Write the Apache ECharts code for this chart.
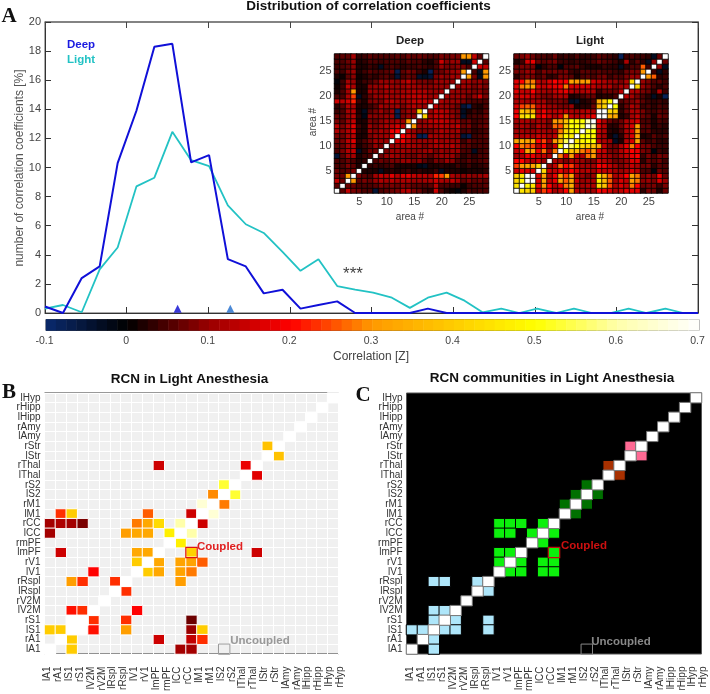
<!DOCTYPE html>
<html><head><meta charset="utf-8">
<style>html,body{margin:0;padding:0;background:#fff}#c{width:710px;height:694px}</style>
<script src="https://cdn.jsdelivr.net/npm/echarts@6/dist/echarts.min.js"></script>
</head><body><div id="c"></div>
<script>
// ---------- Panel A distribution ----------
const corrBins=[-0.1,-0.078,-0.055,-0.033,-0.011,0.012,0.034,0.056,0.079,0.101,0.124,0.146,0.168,0.191,0.213,0.235,0.258,0.280,0.302,0.325,0.347,0.369,0.392,0.414,0.436,0.459,0.481,0.503,0.526,0.548,0.570,0.593,0.615,0.637,0.660,0.682,0.7];
const deepPct=[0.45,0,2.4,3.2,10.3,13.9,18.3,18.5,10.35,10.85,3.7,3.2,1.35,1.6,0.3,0.55,0.8,0,0,0,0,0.3,0,0,0,0,0,0,0,0,0,0,0,0,0,0,0];
const lightPct=[0.3,0.55,0.05,3.0,4.5,8.7,9.3,12.45,10.5,10.1,7.4,6.1,5.5,4.2,2.9,3.7,1.85,1.6,1.4,1.05,0.35,1.05,1.4,0.85,0.05,0.3,0,0.3,0,0.3,0,0,0.3,0,0.3,0,0];
const deepMean=[[0.0625,0.3]];
const lightMean=[[0.127,0.3]];
const yTicksA=[0,2,4,6,8,10,12,14,16,18,20];
// ---------- colour scale ----------
const colorStops=['#0a2a6e','#000000','#9a0000','#ff0000','#ff9900','#ffcc00','#ffff00','#ffffaa','#ffffff'];
const barLevels=[-0.094,-0.081,-0.069,-0.056,-0.044,-0.031,-0.019,-0.006,0.006,0.019,0.031,0.044,0.056,0.069,0.081,0.094,0.106,0.119,0.131,0.144,0.156,0.169,0.181,0.194,0.206,0.219,0.231,0.244,0.256,0.269,0.281,0.294,0.306,0.319,0.331,0.344,0.356,0.369,0.381,0.394,0.406,0.419,0.431,0.444,0.456,0.469,0.481,0.494,0.506,0.519,0.531,0.544,0.556,0.569,0.581,0.594,0.606,0.619,0.631,0.644,0.656,0.669,0.681,0.694];
// ---------- inset matrices: upper triangles, hundredths, row i holds j>i ----------
const areaLabels=['1','2','3','4','5','6','7','8','9','10','11','12','13','14','15','16','17','18','19','20','21','22','23','24','25','26','27','28'];
const deepUpper=[
[6,14,8,7,5,5,-5,5,6,7,8,12,13,8,7,4,3,15,5,2,1,-1,2,5,4,5,5],
[7,7,5,5,5,6,8,7,8,7,9,8,6,6,5,6,13,5,5,4,4,1,4,5,5,6],
[30,6,8,7,10,12,11,13,11,12,12,10,10,11,12,15,12,11,14,11,6,8,6,7,6],
[8,6,5,11,14,13,17,13,16,17,14,13,13,12,22,24,30,12,10,9,10,9,10,11],
[2,2,2,-3,2,3,2,3,4,2,3,2,2,4,-3,2,2,2,1,2,2,2,3],
[3,4,3,4,5,2,2,2,2,-2,-3,2,2,3,2,2,4,2,4,2,3,4],
[5,7,6,8,8,10,10,8,9,6,4,8,7,10,9,5,4,6,4,5,6],
[7,10,11,10,9,8,7,9,8,6,9,10,10,10,7,3,5,3,5,5],
[8,10,10,11,10,9,9,10,11,8,10,9,10,10,5,5,-3,4,5],
[10,11,10,12,11,10,8,10,12,12,11,13,10,6,6,4,5,5],
[16,18,13,10,10,10,10,13,10,11,10,10,4,7,5,5,5],
[20,16,11,-7,-8,11,11,11,10,10,9,-5,-7,4,5,6],
[13,10,8,8,8,10,12,11,10,11,5,6,3,4,5],
[30,10,10,11,12,13,12,12,14,7,8,4,6,7],
[9,10,13,14,14,13,11,10,6,7,4,5,6],
[42,11,14,14,12,10,8,-4,4,5,5,7],
[10,14,13,12,9,8,-3,2,4,3,6],
[13,10,10,9,7,-5,-8,3,2,5],
[12,10,10,10,8,6,5,5,5],
[11,10,10,10,7,10,15,8],
[10,10,9,9,8,9,7],
[10,11,10,8,10,8],
[11,11,9,10,8],
[31,8,-3,30],
[5,-3,30],
[15,14],
[6]];
const lightUpper=[
[45,42,40,15,24,20,11,14,20,32,13,11,10,11,20,18,16,12,14,17,17,17,3,8,7,2,7],
[48,45,18,30,20,12,18,28,34,12,11,12,12,42,38,24,12,16,14,28,20,7,8,8,4,8],
[70,16,32,14,18,32,26,32,14,10,11,12,46,36,26,11,16,14,31,28,9,10,8,16,10],
[16,32,12,18,30,24,32,12,10,8,10,44,34,26,12,14,20,32,28,8,10,8,18,7],
[42,15,14,18,13,20,15,12,13,11,16,14,14,11,10,12,16,13,5,5,-1,7,5],
[10,14,27,20,24,14,11,11,11,20,18,14,11,8,11,14,12,7,8,3,6,5],
[12,11,8,12,11,10,8,8,15,13,10,7,8,10,16,16,3,7,5,7,4],
[28,15,30,14,12,27,30,12,13,10,8,11,14,18,20,4,8,5,8,7],
[48,38,36,28,25,30,16,14,8,8,12,16,20,18,8,7,-1,4,3],
[55,50,42,40,38,30,14,8,7,12,18,28,20,8,8,5,4,4],
[46,48,50,50,14,12,10,-3,2,13,16,32,6,4,5,3,3],
[50,50,48,13,11,2,-4,3,11,16,30,2,3,6,4,5],
[52,50,14,12,3,2,5,12,16,30,5,6,3,3,3],
[62,16,13,3,3,7,13,16,31,6,6,2,4,3],
[18,12,7,5,7,12,14,16,5,5,2,5,4],
[70,34,33,2,4,11,14,7,6,2,7,6],
[42,40,3,7,12,12,8,5,4,6,5],
[50,3,7,12,10,4,5,3,5,4],
[5,7,8,10,6,4,3,4,3],
[13,11,8,5,3,-3,2,-8],
[12,12,8,7,3,12,4],
[42,10,8,5,3,5],
[10,8,5,6,4],
[30,26,3,4],
[4,-3,3],
[10,-3],
[7]];
// ---------- panels B and C ----------
const regionRows=['lA1','rA1','lS1','rS1','lV2M','rV2M','lRspl','rRspl','lV1','rV1','lmPF','rmPF','lCC','rCC','lM1','rM1','lS2','rS2','lThal','rThal','lStr','rStr','lAmy','rAmy','lHipp','rHipp','lHyp'];
const regionCols=['lA1','rA1','lS1','rS1','lV2M','rV2M','lRspl','rRspl','lV1','rV1','lmPF','rmPF','lCC','rCC','lM1','rM1','lS2','rS2','lThal','rThal','lStr','rStr','lAmy','rAmy','lHipp','rHipp','lHyp','rHyp'];
const rcnDiagonal=[0,1,2,3,4,5,6,7,8,9,10,11,12,13,14,15,16,17,18,19,20,21,22,23,24,25,26];
const rcnCells=[
[20,21,.38],[21,20,.38],[10,19,.15],[18,19,.18],[19,18,.17],[16,17,.53],[15,16,.29],[17,16,.53],[14,15,.65],[16,15,.28],
[1,14,.23],[2,14,.4],[9,14,.26],[13,14,.15],[15,14,.65],
[0,13,.11],[1,13,.12],[2,13,.11],[3,13,.08],[8,13,.28],[9,13,.33],[10,13,.43],[12,13,.6],[14,13,.15],
[0,12,.11],[7,12,.31],[8,12,.33],[9,12,.33],[11,12,.47],[13,12,.6],[12,11,.47],
[1,10,.15],[8,10,.33],[9,10,.33],[13,10,.41],[19,10,.15],
[8,9,.4],[10,9,.33],[12,9,.32],[13,9,.32],[14,9,.26],
[4,8,.2],[9,8,.4],[10,8,.33],[12,8,.32],[13,8,.28],
[2,7,.31],[3,7,.23],[6,7,.23],[12,7,.31],[7,6,.23],
[2,4,.21],[3,4,.23],[8,4,.2],
[2,3,.7],[4,3,.23],[7,3,.23],[13,3,.07],
[0,2,.4],[1,2,.4],[3,2,.7],[4,2,.21],[7,2,.31],[13,2,.1],[14,2,.4],
[2,1,.4],[10,1,.15],[13,1,.14],[14,1,.23],
[2,0,.4],[12,0,.11],[13,0,.11]];
const blueCells=[[2,7],[3,7],[6,7],[7,6],[2,4],[3,4],[2,3],[4,3],[7,3],[0,2],[1,2],[3,2],[4,2],[7,2],[2,1],[2,0]];
const greenCells=[[8,13],[9,13],[10,13],[12,13],[8,12],[9,12],[11,12],[13,12],[12,11],[8,10],[9,10],[13,10],[8,9],[10,9],[12,9],[13,9],[9,8],[10,8],[12,8],[13,8]];
const darkGreenCells=[[16,17],[15,16],[17,16],[14,15],[16,15],[15,14]];
const brownCells=[[18,19],[19,18]];
const pinkCells=[[20,21],[21,20]];
const coupledCell=[[13,10]];
const uncoupledCell=[[16,0]];

function mirror(upper){const out=[];for(let i=0;i<28;i++){out.push([i,i,.7]);(upper[i]||[]).forEach((v,k)=>{const j=i+1+k;out.push([j,i,v/100]);out.push([i,j,v/100]);});}return out;}
const sans='"Liberation Sans",Arial,sans-serif';
const grey='#444';
const grids=[
{left:45,top:22,width:653,height:291,show:true,borderColor:'#555',borderWidth:1},
{left:334.5,top:54,width:154,height:139,show:true,borderColor:'#999',backgroundColor:'#000',borderWidth:1},
{left:514,top:54,width:154,height:139,show:true,borderColor:'#999',backgroundColor:'#000',borderWidth:1},
{left:46,top:319.5,width:653,height:11,show:true,borderColor:'#555',borderWidth:1},
{left:44.5,top:393,width:294,height:261,show:true,borderColor:'#333',backgroundColor:'#f0f0f0',borderWidth:1},
{left:42.3,top:393,width:303.3,height:261},
{left:406.5,top:393,width:295,height:261,show:true,borderColor:'#555',backgroundColor:'#000',borderWidth:1},
{left:404.6,top:393,width:304.4,height:261}];
const hide={show:false};
function catAxis(g,data,extra){return Object.assign({type:'category',gridIndex:g,data:data,axisLine:hide,axisTick:hide,splitLine:hide,axisLabel:hide},extra||{});}
const insetLabel={show:true,fontFamily:sans,fontSize:11,color:'#444',margin:3,interval:(i)=>(i+1)%5===0};
const whiteLines={show:true,interval:0,lineStyle:{color:'#fff',width:1}};
const rowLabel={show:true,interval:0,fontFamily:sans,fontSize:10,color:'#333',margin:4};
const colLabel={show:true,interval:0,rotate:90,fontFamily:sans,fontSize:10,color:'#333',margin:23};
const xAxes=[
{type:'value',gridIndex:0,min:-0.1,max:0.7,interval:0.1,position:'bottom',axisLine:{onZero:false,lineStyle:{color:'#333'}},axisTick:{inside:true,length:6,lineStyle:{color:'#333'}},axisLabel:hide,splitLine:hide},
{type:'value',gridIndex:0,min:-0.1,max:0.7,interval:0.1,position:'top',axisLine:{onZero:false,lineStyle:{color:'#777',width:1.5}},axisTick:{inside:true,length:6,lineStyle:{color:'#444'}},axisLabel:hide,splitLine:hide},
catAxis(1,areaLabels,{axisLabel:insetLabel}),
catAxis(2,areaLabels,{axisLabel:insetLabel}),
catAxis(3,barLevels.map(String)),
{type:'value',gridIndex:3,min:-0.1,max:0.7,interval:0.1,position:'bottom',z:6,axisLine:hide,axisTick:{inside:true,length:11,lineStyle:{color:'#222'}},axisLabel:{show:true,fontFamily:sans,fontSize:10.5,color:'#444',margin:5,padding:[0,3,0,0],formatter:(v)=>String(+v.toFixed(1))},splitLine:hide},
catAxis(4,regionRows,{splitLine:whiteLines}),
catAxis(5,regionCols,{axisLabel:colLabel}),
catAxis(6,regionRows),
catAxis(7,regionCols,{axisLabel:colLabel})];
const yAxes=[
{type:'value',gridIndex:0,min:0,max:20,interval:2,position:'left',axisLine:{onZero:false,lineStyle:{color:'#333'}},axisTick:{inside:true,length:6,lineStyle:{color:'#333'}},axisLabel:{show:true,fontFamily:sans,fontSize:11,color:grey,margin:4,formatter:(v)=>yTicksA.includes(v)?String(v):''},splitLine:hide},
{type:'value',gridIndex:0,min:0,max:20,interval:2,position:'right',axisLine:{onZero:false,lineStyle:{color:'#333'}},axisTick:{inside:true,length:6,lineStyle:{color:'#333'}},axisLabel:hide,splitLine:hide},
catAxis(1,areaLabels,{axisLabel:insetLabel}),
catAxis(2,areaLabels,{axisLabel:insetLabel}),
catAxis(3,['bar']),
catAxis(4,regionRows,{splitLine:whiteLines,axisLabel:rowLabel}),
catAxis(5,regionRows),
catAxis(6,regionRows,{axisLabel:rowLabel}),
catAxis(7,regionRows)];
function solid(name,x,y,data,color,extra){return {type:'heatmap',name,xAxisIndex:x,yAxisIndex:y,data,itemStyle:Object.assign({color,borderColor:'#000',borderWidth:1},extra||{}),emphasis:{disabled:true}};}
const withV=(arr)=>arr.map(p=>[p[0],p[1],1]);
const series=[
{type:'heatmap',name:'Deep matrix',xAxisIndex:2,yAxisIndex:2,data:mirror(deepUpper),itemStyle:{borderColor:'#000',borderWidth:0.8},emphasis:{disabled:true}},
{type:'heatmap',name:'Light matrix',xAxisIndex:3,yAxisIndex:3,data:mirror(lightUpper),itemStyle:{borderColor:'#000',borderWidth:0.8},emphasis:{disabled:true}},
{type:'heatmap',name:'Colour bar',xAxisIndex:4,yAxisIndex:4,data:barLevels.map((v,i)=>[i,0,v]),emphasis:{disabled:true}},
{type:'heatmap',name:'RCN',xAxisIndex:6,yAxisIndex:5,data:rcnCells.concat(rcnDiagonal.map(d=>[d,d,.7])),itemStyle:{borderColor:'#fff',borderWidth:1},emphasis:{disabled:true}},
{type:'line',name:'Light',xAxisIndex:0,yAxisIndex:0,data:corrBins.map((x,i)=>[x,lightPct[i]]),showSymbol:false,lineStyle:{color:'#22c2c4',width:1.8},z:3},
{type:'line',name:'Deep',xAxisIndex:0,yAxisIndex:0,data:corrBins.map((x,i)=>[x,deepPct[i]]),showSymbol:false,lineStyle:{color:'#1010d8',width:2},z:4},
{type:'scatter',name:'Deep mean',xAxisIndex:0,yAxisIndex:0,data:deepMean,symbol:'triangle',symbolSize:8,itemStyle:{color:'#0808d0'},z:5},
{type:'scatter',name:'Light mean',xAxisIndex:0,yAxisIndex:0,data:lightMean,symbol:'triangle',symbolSize:8,itemStyle:{color:'#1e6ccc'},z:5},
solid('Coupled B',6,5,withV(coupledCell),'rgba(0,0,0,0)',{borderColor:'#e01010',borderWidth:1.2}),
solid('Uncoupled B',6,5,withV(uncoupledCell),'rgba(0,0,0,0)',{borderColor:'#999',borderWidth:1}),
solid('Blue',8,7,withV(blueCells),'#aee6fa'),
solid('Green',8,7,withV(greenCells),'#0cf00c'),
solid('DarkGreen',8,7,withV(darkGreenCells),'#007000'),
solid('Brown',8,7,withV(brownCells),'#a83000'),
solid('Pink',8,7,withV(pinkCells),'#ff6a94'),
solid('Diag',8,7,withV(rcnDiagonal.map(d=>[d,d])),'#ffffff',{borderColor:'#777',borderWidth:1}),
solid('Coupled C',8,7,withV(coupledCell),'#0cf00c',{borderColor:'#c01010',borderWidth:1.2}),
solid('Uncoupled C',8,7,withV(uncoupledCell),'rgba(0,0,0,0)',{borderColor:'#888',borderWidth:1})
];
function txt(x,y,text,font,color,extra){return Object.assign({type:'text',x,y,silent:true,z:50,style:{text,font,fill:color,align:'center',verticalAlign:'middle'}},extra||{});}
const graphic=[
txt(9,16.5,'A','bold 21px "Liberation Serif",serif','#111'),
txt(9,393,'B','bold 21px "Liberation Serif",serif','#111'),
txt(363,396,'C','bold 21px "Liberation Serif",serif','#111'),
txt(368.5,6,'Distribution of correlation coefficients','bold 13.5px '+sans,'#111'),
txt(189.5,379,'RCN in Light Anesthesia','bold 13.5px '+sans,'#111'),
txt(552,378,'RCN communities in Light Anesthesia','bold 13.5px '+sans,'#111'),
txt(410,41,'Deep','bold 11.5px '+sans,'#222'),
txt(590,41,'Light','bold 11.5px '+sans,'#222'),
txt(410,217,'area #','10px '+sans,'#444'),
txt(590,217,'area #','10px '+sans,'#444'),
txt(313,122,'area #','10px '+sans,'#444',{rotation:Math.PI/2}),
txt(81,45,'Deep','bold 11.5px '+sans,'#1a1ae0'),
txt(81,60,'Light','bold 11.5px '+sans,'#22c2c4'),
txt(20,168,'number of correlation coefficients [%]','12px '+sans,'#555',{rotation:Math.PI/2}),
txt(371,357,'Correlation [Z]','12px '+sans,'#444'),
txt(353,274,'***','17px '+sans,'#444'),
txt(220,547,'Coupled','bold 11.5px '+sans,'#e02020'),
txt(260,641,'Uncoupled','bold 11.5px '+sans,'#999'),
txt(584,546,'Coupled','bold 11.5px '+sans,'#cc1010'),
txt(621,642,'Uncoupled','bold 11.5px '+sans,'#888')
];
const chart=echarts.init(document.getElementById('c'),null,{renderer:'canvas'});
chart.setOption({animation:false,backgroundColor:'#fff',grid:grids,xAxis:xAxes,yAxis:yAxes,series,graphic,
visualMap:[{type:'continuous',show:false,min:-0.1,max:0.7,seriesIndex:[0,1,2,3],inRange:{color:colorStops}}]});
</script></body></html>
